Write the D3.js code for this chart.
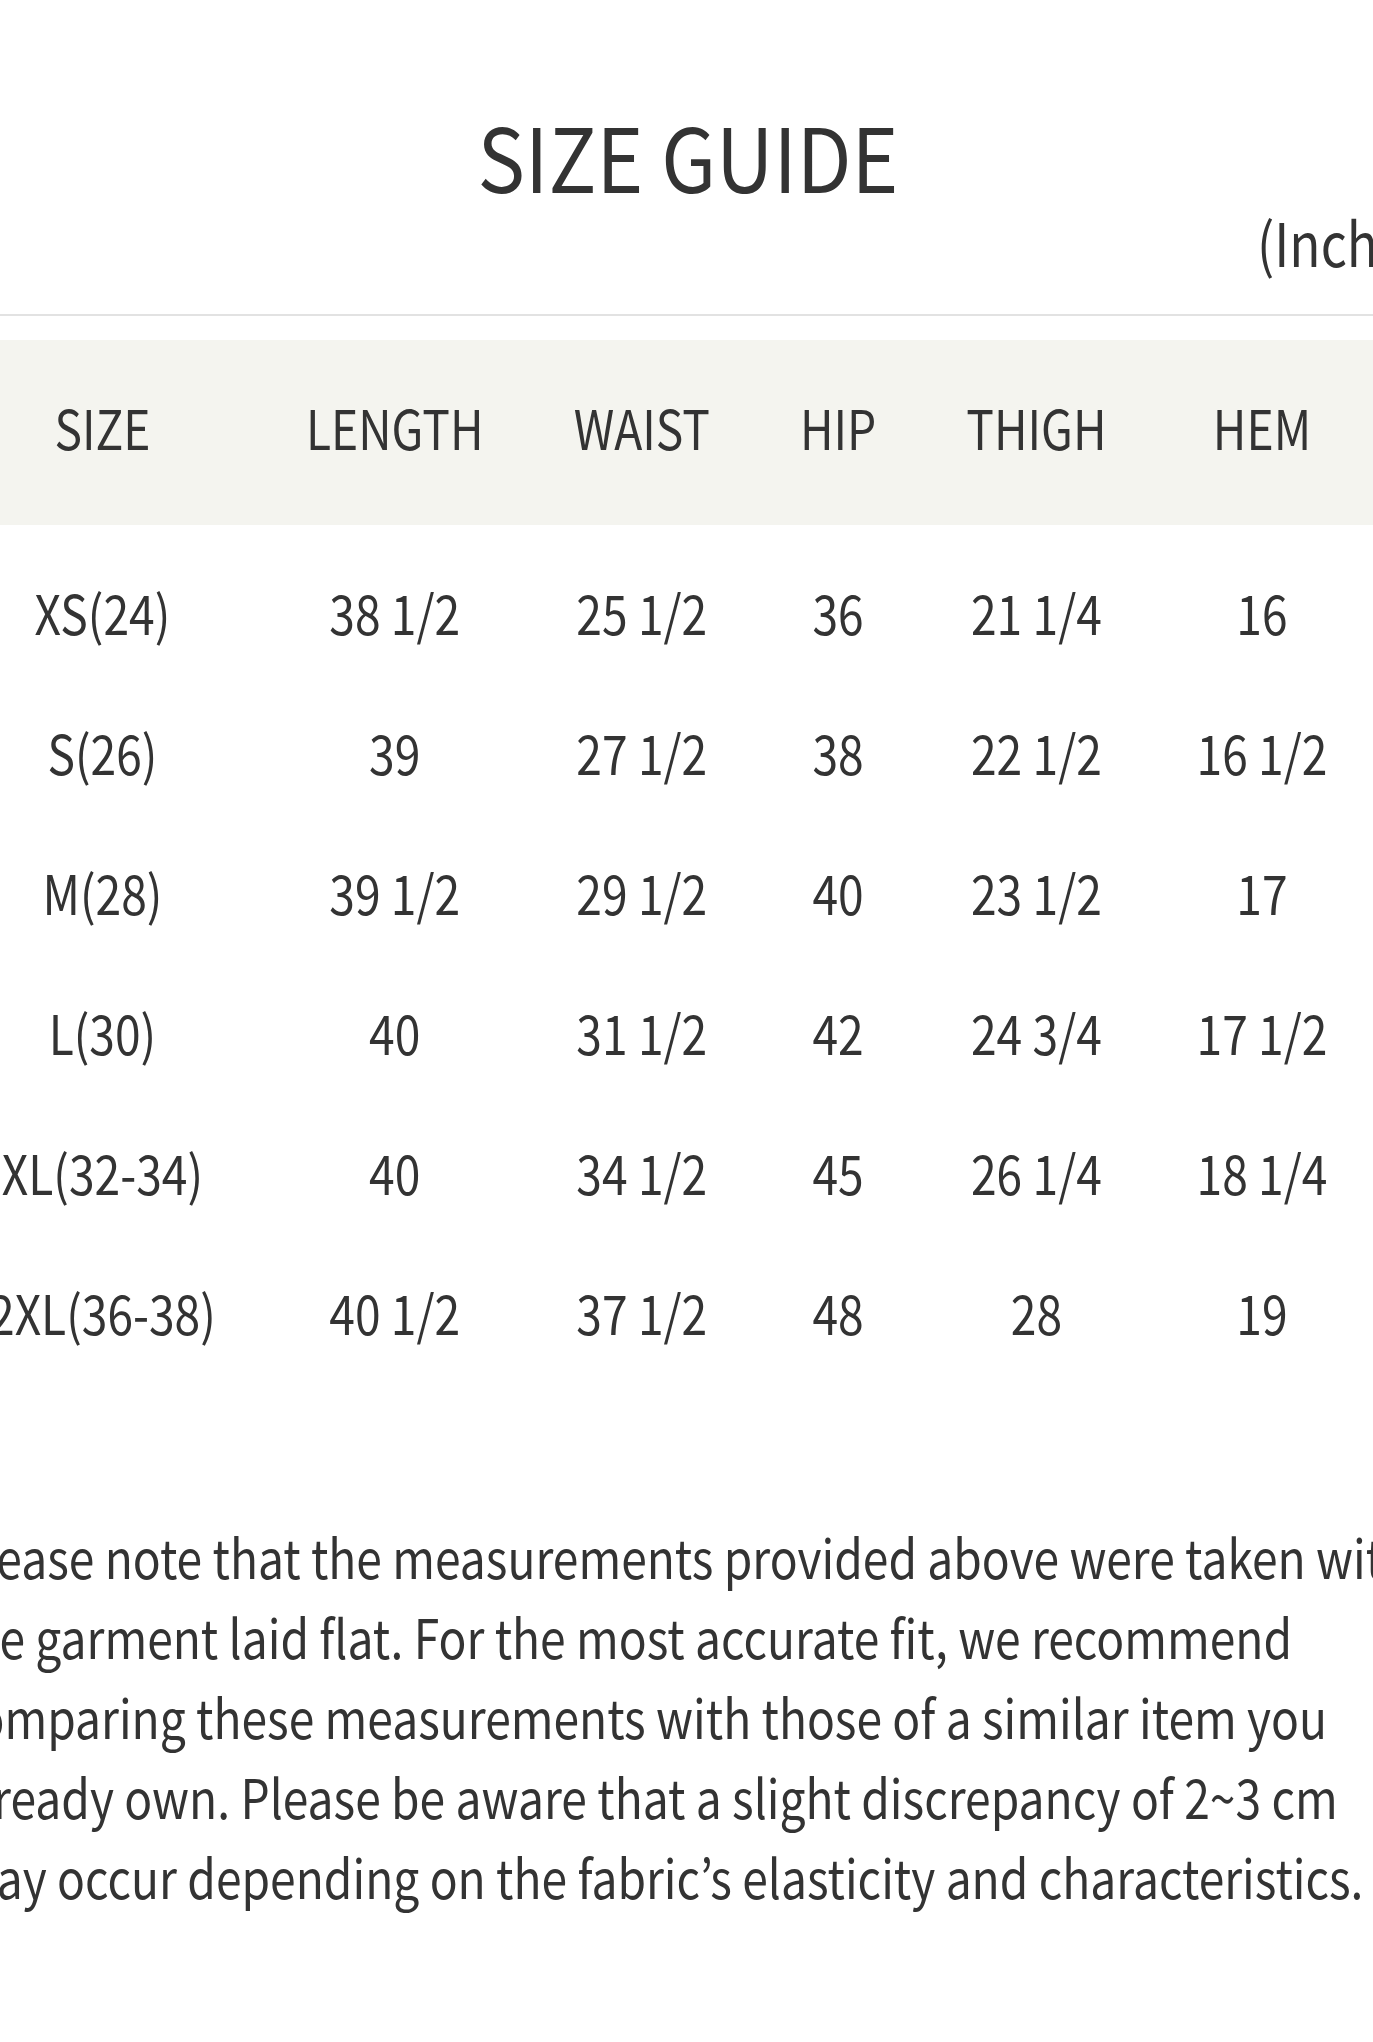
<!DOCTYPE html>
<html>
<head>
<meta charset="utf-8">
<script src="https://cdn.jsdelivr.net/npm/d3@7"></script>
<style>
  html, body { margin: 0; padding: 0; background: #fff; overflow: hidden; }
  svg { display: block; }
  text { font-family: "Noto Sans CJK KR", "Noto Sans", sans-serif; fill: #333; }
</style>
</head>
<body>
<div id="chart"></div>
<script>
const columns = ["SIZE", "LENGTH", "WAIST", "HIP", "THIGH", "HEM"];
const sizes = ["XS(24)", "S(26)", "M(28)", "L(30)", "XL(32-34)", "2XL(36-38)"];
const lengths = [38.5, 39, 39.5, 40, 40, 40.5];
const waists = [25.5, 27.5, 29.5, 31.5, 34.5, 37.5];
const hips = [36, 38, 40, 42, 45, 48];
const thighs = [21.25, 22.5, 23.5, 24.75, 26.25, 28];
const hems = [16, 16.5, 17, 17.5, 18.25, 19];

const noteLines = [
  "Please note that the measurements provided above were taken with",
  "the garment laid flat. For the most accurate fit, we recommend",
  "comparing these measurements with those of a similar item you",
  "already own. Please be aware that a slight discrepancy of 2~3 cm",
  "may occur depending on the fabric\u2019s elasticity and characteristics."
];

const width = 1373;
const height = 2042;
const sx = 0.855;   // the glyphs in the screenshot are narrower than the font

// inches -> "38 1/2" style
function fmtInch(v) {
  const whole = Math.floor(v);
  const frac = v - whole;
  const fracs = { 0.25: "1/4", 0.5: "1/2", 0.75: "3/4" };
  return frac ? `${whole} ${fracs[frac]}` : `${whole}`;
}

const rows = sizes.map((s, i) => [
  s,
  fmtInch(lengths[i]),
  fmtInch(waists[i]),
  fmtInch(hips[i]),
  fmtInch(thighs[i]),
  fmtInch(hems[i])
]);

const place = (x, y, k) => `translate(${x},${y}) scale(${k},1)`;

const svg = d3.select("#chart")
  .append("svg")
  .attr("width", width)
  .attr("height", height);

// title
svg.append("text")
  .attr("transform", place(688, 193, 0.905))
  .attr("text-anchor", "middle")
  .style("font-size", "88px")
  .text("SIZE GUIDE");

svg.append("text")
  .attr("transform", place(1257, 267, sx))
  .style("font-size", "60px")
  .text("(Inch)");

svg.append("rect")
  .attr("x", 0)
  .attr("y", 314)
  .attr("width", width)
  .attr("height", 2)
  .attr("fill", "#e2e2e2");

svg.append("rect")
  .attr("x", 0)
  .attr("y", 340)
  .attr("width", width)
  .attr("height", 185)
  .attr("fill", "#f4f4ef");

// auto table layout: each column = widest cell + padding
const fontSize = 54;
const cellPad = 90;
const tableLeft = -56;

const probe = svg.append("text").style("font-size", fontSize + "px");
const colWidths = columns.map((c, j) => {
  const cells = [c].concat(rows.map(r => r[j]));
  return d3.max(cells, t => probe.text(t).node().getComputedTextLength()) * sx + cellPad;
});
probe.remove();

const colEdges = d3.cumsum([tableLeft].concat(colWidths));
const x = d3.scaleOrdinal()
  .domain(columns)
  .range(columns.map((c, j) => (colEdges[j] + colEdges[j + 1]) / 2));

const y = d3.scalePoint()
  .domain(sizes)
  .range([635, 1335]);

svg.append("g")
  .selectAll("text")
  .data(columns)
  .join("text")
  .attr("transform", d => place(x(d), 450, sx))
  .attr("text-anchor", "middle")
  .style("font-size", fontSize + "px")
  .text(d => d);

const rowG = svg.append("g")
  .selectAll("g")
  .data(rows)
  .join("g")
  .attr("transform", d => `translate(0,${y(d[0])})`);

rowG.selectAll("text")
  .data(d => d.map((v, j) => ({ v, col: columns[j] })))
  .join("text")
  .attr("transform", d => place(x(d.col), 0, sx))
  .attr("text-anchor", "middle")
  .style("font-size", fontSize + "px")
  .text(d => d.v);

// note paragraph
svg.append("g")
  .selectAll("text")
  .data(noteLines)
  .join("text")
  .attr("transform", (d, i) => place(-46, 1579 + i * 80, sx))
  .style("font-size", fontSize + "px")
  .text(d => d);
</script>
</body>
</html>
